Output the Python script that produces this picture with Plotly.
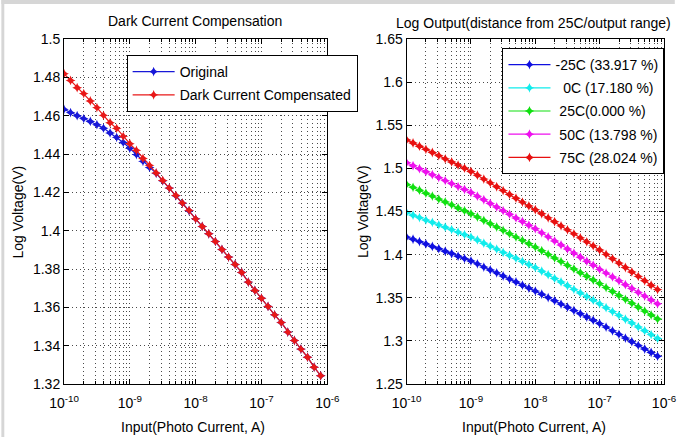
import plotly.graph_objects as go

# Photo-current sweep, 0.1-decade steps (log10 of amps)
log_current = [-10.0, -9.9, -9.8, -9.7, -9.6, -9.5, -9.4, -9.3, -9.2, -9.1,
               -9.0, -8.9, -8.8, -8.7, -8.6, -8.5, -8.4, -8.3, -8.2, -8.1,
               -8.0, -7.9, -7.8, -7.7, -7.6, -7.5, -7.4, -7.3, -7.2, -7.1,
               -7.0, -6.9, -6.8, -6.7, -6.6, -6.5, -6.4, -6.3, -6.2, -6.1]
current = [10 ** e for e in log_current]

# Left panel: log amplifier output before / after dark current compensation
original = [1.4633, 1.4616, 1.4600, 1.4585, 1.4570, 1.4553, 1.4535, 1.4510, 1.4487, 1.4460,
            1.4430, 1.4397, 1.4362, 1.4330, 1.4299, 1.4260, 1.4222, 1.4182, 1.4143, 1.4104,
            1.4062, 1.4022, 1.3984, 1.3944, 1.3902, 1.3862, 1.3824, 1.3782, 1.3732, 1.3688,
            1.3648, 1.3605, 1.3561, 1.3521, 1.3471, 1.3427, 1.3382, 1.3340, 1.3288, 1.3243]
compensated = [1.4819, 1.4784, 1.4746, 1.4715, 1.4677, 1.4642, 1.4602, 1.4563, 1.4534, 1.4492,
               1.4454, 1.4419, 1.4377, 1.4341, 1.4301, 1.4262, 1.4222, 1.4184, 1.4144, 1.4106,
               1.4062, 1.4022, 1.3984, 1.3944, 1.3902, 1.3862, 1.3824, 1.3782, 1.3732, 1.3688,
               1.3648, 1.3605, 1.3561, 1.3521, 1.3471, 1.3427, 1.3382, 1.3340, 1.3288, 1.3243]

# Right panel: output at several temperatures
t_m25 = [1.4204, 1.4178, 1.4151, 1.4124, 1.4095, 1.4069, 1.4039, 1.4013, 1.3982, 1.3955,
         1.3926, 1.3893, 1.3856, 1.3822, 1.3789, 1.3752, 1.3716, 1.3683, 1.3646, 1.3612,
         1.3577, 1.3541, 1.3502, 1.3466, 1.3427, 1.3391, 1.3352, 1.3315, 1.3277, 1.3240,
         1.3201, 1.3160, 1.3117, 1.3076, 1.3032, 1.2991, 1.2948, 1.2906, 1.2865, 1.2823]
t_0 = [1.4486, 1.4457, 1.4430, 1.4401, 1.4374, 1.4345, 1.4318, 1.4290, 1.4261, 1.4233,
       1.4204, 1.4170, 1.4133, 1.4098, 1.4064, 1.4027, 1.3991, 1.3957, 1.3921, 1.3886,
       1.3850, 1.3808, 1.3767, 1.3724, 1.3683, 1.3640, 1.3598, 1.3556, 1.3514, 1.3472,
       1.3430, 1.3385, 1.3340, 1.3296, 1.3251, 1.3207, 1.3162, 1.3118, 1.3073, 1.3028]
t_25 = [1.4814, 1.4780, 1.4747, 1.4712, 1.4679, 1.4644, 1.4610, 1.4577, 1.4542, 1.4509,
        1.4474, 1.4436, 1.4397, 1.4359, 1.4320, 1.4282, 1.4243, 1.4204, 1.4166, 1.4127,
        1.4088, 1.4046, 1.4003, 1.3961, 1.3919, 1.3876, 1.3834, 1.3791, 1.3749, 1.3706,
        1.3664, 1.3618, 1.3573, 1.3527, 1.3482, 1.3436, 1.3391, 1.3346, 1.3300, 1.3255]
t_50 = [1.5065, 1.5031, 1.4996, 1.4962, 1.4927, 1.4893, 1.4858, 1.4824, 1.4789, 1.4755,
        1.4720, 1.4678, 1.4636, 1.4594, 1.4552, 1.4510, 1.4468, 1.4426, 1.4384, 1.4342,
        1.4300, 1.4253, 1.4206, 1.4159, 1.4112, 1.4065, 1.4018, 1.3971, 1.3924, 1.3877,
        1.3830, 1.3786, 1.3741, 1.3697, 1.3652, 1.3608, 1.3563, 1.3519, 1.3474, 1.3430]
t_75 = [1.5330, 1.5294, 1.5257, 1.5221, 1.5184, 1.5148, 1.5111, 1.5075, 1.5038, 1.5002,
        1.4965, 1.4921, 1.4876, 1.4832, 1.4787, 1.4743, 1.4698, 1.4654, 1.4609, 1.4565,
        1.4520, 1.4474, 1.4427, 1.4381, 1.4334, 1.4288, 1.4241, 1.4195, 1.4148, 1.4102,
        1.4055, 1.4004, 1.3953, 1.3902, 1.3851, 1.3800, 1.3748, 1.3697, 1.3646, 1.3595]

temp_labels = ["-25C (33.917 %)", "\u00a0\u00a00C (17.180 %)", "\u00a025C(0.000 %)",
               "\u00a050C (13.798 %)", "\u00a075C (28.024 %)"]
temp_series = [t_m25, t_0, t_25, t_50, t_75]
temp_colors = ["#1010e0", "#10ecec", "#10e010", "#ee10ee", "#e81010"]

x_tickvals = [1e-10, 1e-9, 1e-8, 1e-7, 1e-6]
x_ticktext = ["10<sup>-10</sup>", "10<sup>-9</sup>", "10<sup>-8</sup>",
              "10<sup>-7</sup>", "10<sup>-6</sup>"]
y1_tickvals = [1.32, 1.34, 1.36, 1.38, 1.40, 1.42, 1.44, 1.46, 1.48, 1.50]
y1_ticktext = ["1.32", "1.34", "1.36", "1.38", "1.4", "1.42", "1.44", "1.46", "1.48", "1.5"]
y2_tickvals = [1.25, 1.30, 1.35, 1.40, 1.45, 1.50, 1.55, 1.60, 1.65]
y2_ticktext = ["1.25", "1.3", "1.35", "1.4", "1.45", "1.5", "1.55", "1.6", "1.65"]

FONT = "Liberation Sans, Arial, sans-serif"
GRID = "#4a4a4a"
DOTS = "1px,3px"

fig = go.Figure()

marker = dict(symbol="star-diamond", size=7)
fig.add_trace(go.Scatter(x=current, y=original, name="Original", mode="lines+markers",
                         line=dict(color="#1818d8", width=1.2), marker=marker,
                         xaxis="x", yaxis="y", legend="legend", legendgroup="a"))
fig.add_trace(go.Scatter(x=current, y=compensated, name="Dark Current Compensated",
                         mode="lines+markers", line=dict(color="#e81818", width=1.2),
                         marker=marker, xaxis="x", yaxis="y", legend="legend", legendgroup="b"))
for name, ys, col in zip(temp_labels, temp_series, temp_colors):
    fig.add_trace(go.Scatter(x=current, y=ys, name=name, mode="lines+markers",
                             line=dict(color=col, width=1.2), marker=marker,
                             xaxis="x2", yaxis="y2", legend="legend2", legendgroup=name))


def x_axis(domain, anchor):
    return dict(domain=domain, anchor=anchor, type="log", range=[-10, -6],
                tickmode="array", tickvals=x_tickvals, ticktext=x_ticktext,
                showline=True, linecolor="black", linewidth=1, mirror="ticks",
                ticks="inside", ticklen=5, tickcolor="black", ticklabelstandoff=6,
                showgrid=True, gridcolor=GRID, griddash=DOTS, gridwidth=1,
                tickfont=dict(family=FONT, size=14, color="black"),
                minor=dict(dtick="D1", ticks="inside", ticklen=3, tickcolor="black",
                           showgrid=True, gridcolor=GRID, griddash=DOTS, gridwidth=1))


def y_axis(domain, anchor, rng, vals, text):
    return dict(domain=domain, anchor=anchor, range=rng,
                tickmode="array", tickvals=vals, ticktext=text,
                showline=True, linecolor="black", linewidth=1, mirror="ticks",
                ticks="inside", ticklen=5, tickcolor="black", zeroline=False,
                showgrid=True, gridcolor=GRID, griddash=DOTS, gridwidth=1,
                tickfont=dict(family=FONT, size=14, color="black"))


legend_common = dict(bgcolor="white", bordercolor="black", borderwidth=1,
                     font=dict(family=FONT, size=14, color="black"),
                     xanchor="left", yanchor="top", traceorder="grouped",
                     tracegroupgap=2, itemclick=False, itemwidth=42)

fig.update_layout(
    width=688, height=437,
    margin=dict(l=64, r=11, t=39, b=53),
    paper_bgcolor="white", plot_bgcolor="white",
    font=dict(family=FONT, size=14, color="black"),
    xaxis=x_axis([0.0, 0.4388], "y"),
    yaxis=y_axis([0, 1], "x", [1.32, 1.5], y1_tickvals, y1_ticktext),
    xaxis2=x_axis([0.5710, 1.0], "y2"),
    yaxis2=y_axis([0, 1], "x2", [1.25, 1.65], y2_tickvals, y2_ticktext),
    legend=dict(x=0.1044, y=0.9536, **legend_common),
    legend2=dict(x=0.7308, y=0.9739, **legend_common),
    showlegend=True,
)

annotations = [
    dict(text="Dark Current Compensation", x=0.2178, y=1.052),
    dict(text="Log Output(distance from 25C/output range)", x=0.783, y=1.046),
    dict(text="Input(Photo Current, A)", x=0.2153, y=-0.1246),
    dict(text="Input(Photo Current, A)", x=0.783, y=-0.1246),
    dict(text="Log Voltage(V)", x=-0.0767, y=0.5, textangle=-90),
    dict(text="Log Voltage(V)", x=0.4976, y=0.5, textangle=-90),
]
for a in annotations:
    fig.add_annotation(xref="paper", yref="paper", showarrow=False,
                       xanchor="center", yanchor="middle",
                       font=dict(family=FONT, size=14, color="black"), **a)

# light grey frame along the top and left edges of the figure
fig.add_shape(type="rect", xref="paper", yref="paper", x0=-0.1044, x1=1.018,
              y0=1.1014, y1=1.113, fillcolor="#d6d6d6", line_width=0, layer="above")
fig.add_shape(type="rect", xref="paper", yref="paper", x0=-0.1044, x1=-0.0995,
              y0=-0.1536, y1=1.113, fillcolor="#d6d6d6", line_width=0, layer="above")

fig.write_html("out.html")
